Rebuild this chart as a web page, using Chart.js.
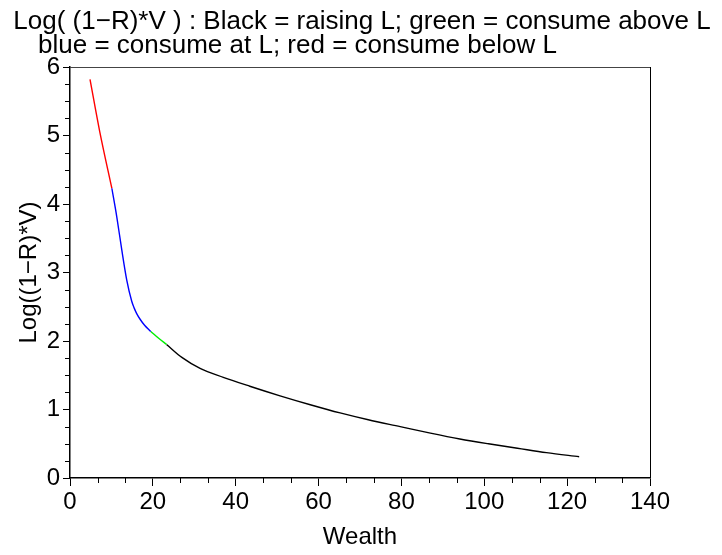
<!DOCTYPE html>
<html>
<head>
<meta charset="utf-8">
<script src="https://cdn.jsdelivr.net/npm/chart.js@4.4.1/dist/chart.umd.min.js"></script>
<style>
  html, body { margin: 0; padding: 0; background: #fff; }
  #wrap { width: 722px; height: 555px; }
</style>
</head>
<body>
<div id="wrap"><canvas id="wealthChart"></canvas></div>
<script>
// valeurs
const titleLines = [
    'Log( (1\u2212R)*V ) : Black = raising L; green = consume above L',
    'blue = consume at L; red = consume below L'
];
const xTicks = [0, 20, 40, 60, 80, 100, 120, 140];
const yTicks = [0, 1, 2, 3, 4, 5, 6];

const redX = [4.83, 7.2, 10.1];
const redY = [5.82, 5.05, 4.23];
const blueX = [10.1, 11.3, 12.5, 13.7, 14.9, 15.5, 16.1, 17.0, 18.0, 19.5];
const blueY = [4.23, 3.81, 3.33, 2.89, 2.58, 2.48, 2.40, 2.31, 2.23, 2.14];
const greenX = [19.5, 21.4, 23.3];
const greenY = [2.14, 2.04, 1.95];
const blackX = [23.3, 27, 31.4, 37, 43.4, 50.7, 58, 65.2, 72, 79.7, 87, 94.1, 101, 108, 115, 122.9];
const blackY = [1.95, 1.76, 1.60, 1.47, 1.34, 1.20, 1.07, 0.95, 0.85, 0.75, 0.655, 0.57, 0.50, 0.435, 0.37, 0.31];

const FONT = "'Liberation Sans', Arial, sans-serif";

function pts(xs, ys) {
    return xs.map((x, i) => ({ x: x, y: ys[i] }));
}

function serie(xs, ys, color) {
    return {
        data: pts(xs, ys),
        borderColor: color,
        borderWidth: 1.4,
        pointRadius: 0,
        showLine: true,
        cubicInterpolationMode: 'monotone',
        fill: false
    };
}

// titre sur deux lignes
const titlePlugin = {
    id: 'titre',
    afterDraw(chart) {
        const ctx = chart.ctx;
        ctx.save();
        ctx.fillStyle = '#000';
        ctx.font = '26px ' + FONT;
        ctx.textBaseline = 'alphabetic';
        ctx.textAlign = 'center';
        ctx.fillText(titleLines[0], 362, 29);
        ctx.textAlign = 'left';
        ctx.fillText(titleLines[1], 38, 53);
        ctx.restore();
    }
};

// cadre + petites graduations
const framePlugin = {
    id: 'cadre',
    afterDraw(chart) {
        const ctx = chart.ctx;
        const a = chart.chartArea;
        const xs = chart.scales.x;
        const ys = chart.scales.y;
        ctx.save();
        ctx.strokeStyle = '#000';
        ctx.lineWidth = 1;
        ctx.beginPath();
        for (let k = 0; k <= 21; k++) {
            if (k % 3 === 0) continue;
            const px = Math.round(xs.getPixelForValue(k * 20 / 3)) + 0.5;
            ctx.moveTo(px, a.bottom);
            ctx.lineTo(px, a.bottom + 5);
        }
        for (let k = 0; k <= 24; k++) {
            if (k % 4 === 0) continue;
            const py = Math.round(ys.getPixelForValue(k / 4)) + 0.5;
            ctx.moveTo(a.left, py);
            ctx.lineTo(a.left - 5, py);
        }
        ctx.stroke();
        ctx.strokeStyle = '#444';
        ctx.beginPath();
        ctx.moveTo(a.left, Math.round(a.top) + 0.5);
        ctx.lineTo(a.right, Math.round(a.top) + 0.5);
        ctx.stroke();
        ctx.strokeStyle = '#000';
        ctx.beginPath();
        ctx.moveTo(Math.round(a.right) + 0.5, a.top);
        ctx.lineTo(Math.round(a.right) + 0.5, a.bottom);
        ctx.stroke();
        ctx.restore();
    }
};

function generateChart() {
    const ctx = document.getElementById('wealthChart').getContext('2d');
    new Chart(ctx, {
        type: 'scatter',
        data: {
            datasets: [
                serie(redX, redY, '#ff0000'),
                serie(blueX, blueY, '#0000ff'),
                serie(greenX, greenY, '#00ee00'),
                serie(blackX, blackY, '#000000')
            ]
        },
        options: {
            responsive: true,
            maintainAspectRatio: false,
            animation: false,
            layout: { padding: { top: 67, right: 72, left: 0, bottom: 0 } },
            plugins: {
                legend: { display: false },
                tooltip: { enabled: false },
                title: { display: false }
            },
            scales: {
                x: {
                    type: 'linear',
                    min: 0,
                    max: 140,
                    afterFit: s => { s.height = 77; },
                    afterBuildTicks: s => { s.ticks = xTicks.map(v => ({ value: v })); },
                    ticks: { font: { family: FONT, size: 24 }, color: '#000', padding: 2, maxRotation: 0 },
                    grid: { drawOnChartArea: false, drawTicks: true, tickLength: 8, color: '#000', lineWidth: 1 },
                    border: { color: '#000', width: 1.5 },
                    title: { display: true, text: 'Wealth', color: '#000', font: { family: FONT, size: 24 }, padding: { top: 0, bottom: 3 } }
                },
                y: {
                    type: 'linear',
                    min: 0,
                    max: 6,
                    afterFit: s => { s.width = 70; },
                    afterBuildTicks: s => { s.ticks = yTicks.map(v => ({ value: v })); },
                    ticks: { font: { family: FONT, size: 24 }, color: '#000', padding: 3 },
                    grid: { drawOnChartArea: false, drawTicks: true, tickLength: 7, color: '#000', lineWidth: 1 },
                    border: { color: '#000', width: 1.5 },
                    title: { display: true, text: 'Log((1\u2212R)*V)', color: '#000', font: { family: FONT, size: 24 }, padding: { top: 15, bottom: 0 } }
                }
            }
        },
        plugins: [titlePlugin, framePlugin]
    });
}

document.addEventListener('DOMContentLoaded', () => {
    generateChart();
});
</script>
</body>
</html>
